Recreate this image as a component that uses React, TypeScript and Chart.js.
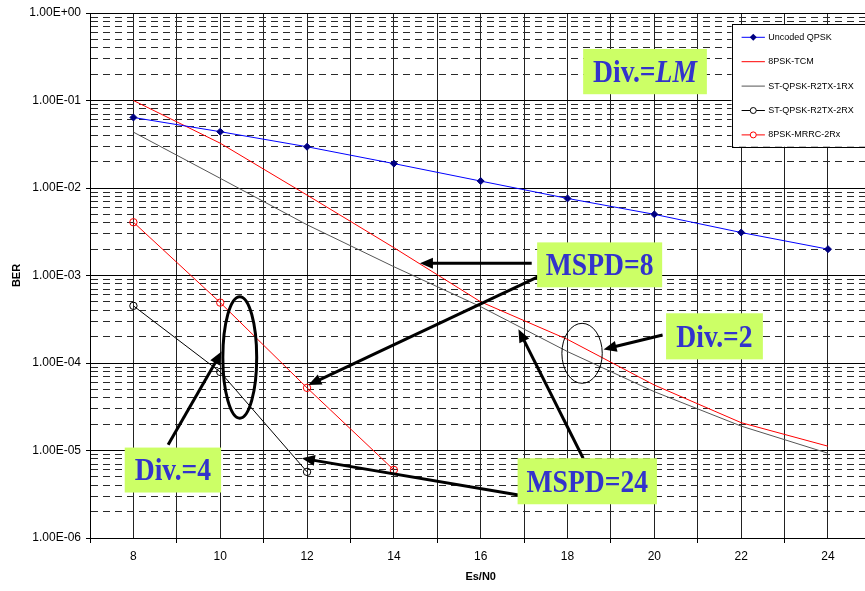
import React, { useEffect, useRef } from 'react';
import { Chart, registerables } from 'chart.js';

Chart.register(...registerables);

// ---- data ----
const esN0 = [8, 10, 12, 14, 16, 18, 20, 22, 24];
const uncodedQpsk = [6.4e-2, 4.4e-2, 2.96e-2, 1.9e-2, 1.2e-2, 7.6e-3, 5.0e-3, 3.1e-3, 2.0e-3];
const psk8Tcm = [1.0e-1, 3.25e-2, 8.3e-3, 2.08e-3, 5.0e-4, 1.86e-4, 5.6e-5, 2.08e-5, 1.12e-5];
const stQpsk1Rx = [4.35e-2, 1.29e-2, 3.8e-3, 1.26e-3, 4.4e-4, 1.35e-4, 4.7e-5, 1.9e-5, 9.3e-6];
const stQpsk2Rx = [4.5e-4, 7.9e-5, 5.7e-6];
const psk8Mrrc = [4.06e-3, 4.9e-4, 5.2e-5, 6.0e-6];

const seriesLabels = ['Uncoded QPSK', '8PSK-TCM', 'ST-QPSK-R2TX-1RX', 'ST-QPSK-R2TX-2RX', '8PSK-MRRC-2Rx'];

const xMin = 7;
const xMax = 25;
const yDecadeExps = [-6, -5, -4, -3, -2, -1, 0];

// ---- annotations (in data units) ----
type Seg = { t: string; italic?: boolean };
const labelBoxes: { segs: Seg[]; x0: number; x1: number; y0: number; y1: number }[] = [
  { segs: [{ t: 'Div.=' }, { t: 'LM', italic: true }], x0: 18.36, x1: 21.21, y0: 0.388, y1: 0.118 },
  { segs: [{ t: 'MSPD=8' }], x0: 17.3, x1: 20.18, y0: 2.39e-3, y1: 7.33e-4 },
  { segs: [{ t: 'Div.=2' }], x0: 20.27, x1: 22.5, y0: 3.7e-4, y1: 1.1e-4 },
  { segs: [{ t: 'MSPD=24' }], x0: 16.85, x1: 20.06, y0: 8.15e-6, y1: 2.43e-6 },
  { segs: [{ t: 'Div.=4' }], x0: 7.8, x1: 10.02, y0: 1.08e-5, y1: 3.31e-6 },
];
const arrows = [
  { x0: 17.175, y0: 1.38e-3, x1: 14.6, y1: 1.38e-3 },
  { x0: 17.33, y0: 9.69e-4, x1: 12.03, y1: 5.61e-5 },
  { x0: 20.19, y0: 2.09e-4, x1: 18.83, y1: 1.43e-4 },
  { x0: 8.8, y0: 1.16e-5, x1: 10.03, y1: 1.35e-4 },
  { x0: 18.36, y0: 8.15e-6, x1: 16.87, y1: 2.43e-4 },
  { x0: 16.87, y0: 3.1e-6, x1: 11.88, y1: 8.15e-6 },
];
const ellipses = [
  { x0: 17.87, x1: 18.8, y0: 2.84e-4, y1: 5.86e-5, lw: 1 },
  { x0: 10.06, x1: 10.84, y0: 5.73e-4, y1: 2.34e-5, lw: 3 },
];

const isDecade = (v: number) => Math.abs(Math.log10(v) - Math.round(Math.log10(v))) < 1e-9;
const fmtE = (v: number) => {
  const e = Math.round(Math.log10(v));
  const a = Math.abs(e);
  return '1.00E' + (e >= 0 ? '+' : '-') + (a < 10 ? '0' : '') + a;
};

const annotationPlugin = {
  id: 'annotations',
  afterDatasetsDraw(chart: any) {
    const { ctx } = chart;
    const xs = chart.scales.x;
    const ys = chart.scales.y;
    const px = (v: number) => xs.getPixelForValue(v);
    const py = (v: number) => ys.getPixelForValue(v);
    ctx.save();
    // ellipses
    ellipses.forEach((e) => {
      const cx = (px(e.x0) + px(e.x1)) / 2;
      const cy = (py(e.y0) + py(e.y1)) / 2;
      const rx = Math.abs(px(e.x1) - px(e.x0)) / 2;
      const ry = Math.abs(py(e.y1) - py(e.y0)) / 2;
      ctx.beginPath();
      ctx.ellipse(cx, cy, rx, ry, 0, 0, Math.PI * 2);
      ctx.strokeStyle = '#000';
      ctx.lineWidth = e.lw;
      ctx.stroke();
    });
    // arrows
    arrows.forEach((a) => {
      const sx = px(a.x0), sy = py(a.y0), tx = px(a.x1), ty = py(a.y1);
      const dx = tx - sx, dy = ty - sy;
      const len = Math.hypot(dx, dy);
      const ux = dx / len, uy = dy / len;
      const hl = 13, hw = 5.5;
      const bx = tx - ux * hl, by = ty - uy * hl;
      ctx.beginPath();
      ctx.moveTo(sx, sy);
      ctx.lineTo(bx + ux * 2, by + uy * 2);
      ctx.strokeStyle = '#000';
      ctx.lineWidth = 3;
      ctx.stroke();
      ctx.beginPath();
      ctx.moveTo(tx, ty);
      ctx.lineTo(bx - uy * hw, by + ux * hw);
      ctx.lineTo(bx + uy * hw, by - ux * hw);
      ctx.closePath();
      ctx.fillStyle = '#000';
      ctx.fill();
    });
    // label boxes
    const fs = 31;
    const sxScale = 0.89;
    labelBoxes.forEach((b) => {
      const l = px(b.x0), r = px(b.x1), t = py(b.y0), btm = py(b.y1);
      ctx.fillStyle = '#ccff66';
      ctx.fillRect(l, t, r - l, btm - t);
      let total = 0;
      const widths = b.segs.map((s) => {
        ctx.font = `${s.italic ? 'italic ' : ''}bold ${fs}px "Liberation Serif", "Times New Roman", serif`;
        const w = ctx.measureText(s.t).width;
        total += w;
        return w;
      });
      const cx = (l + r) / 2;
      const cy = (t + btm) / 2;
      ctx.save();
      ctx.translate(cx, cy);
      ctx.scale(sxScale, 1);
      let x = -total / 2;
      ctx.fillStyle = '#3333cc';
      ctx.textBaseline = 'alphabetic';
      b.segs.forEach((s, i) => {
        ctx.font = `${s.italic ? 'italic ' : ''}bold ${fs}px "Liberation Serif", "Times New Roman", serif`;
        ctx.fillText(s.t, x, fs * 0.662 / 2);
        x += widths[i];
      });
      ctx.restore();
    });
    ctx.restore();
  },
};

const legendPlugin = {
  id: 'boxLegend',
  afterDraw(chart: any) {
    const { ctx, chartArea } = chart;
    const left = chartArea.left + 641.6;
    const top = chartArea.top + 11;
    const w = 150;
    const h = 122.7;
    ctx.save();
    ctx.fillStyle = '#fff';
    ctx.fillRect(left, top, w, h);
    ctx.strokeStyle = '#000';
    ctx.lineWidth = 1;
    ctx.strokeRect(Math.round(left) + 0.5, Math.round(top) + 0.5, w, Math.round(h));
    chart.data.datasets.forEach((ds: any, i: number) => {
      const cy = top + 13.3 + i * 24.4;
      const lx0 = left + 10, lx1 = left + 33.3;
      ctx.beginPath();
      ctx.moveTo(lx0, cy);
      ctx.lineTo(lx1, cy);
      ctx.strokeStyle = ds.borderColor;
      ctx.lineWidth = 1;
      ctx.stroke();
      const mx = (lx0 + lx1) / 2;
      if (ds.pointRadius > 0) {
        if (ds.pointStyle === 'rectRot') {
          const r = 3.5;
          ctx.beginPath();
          ctx.moveTo(mx, cy - r);
          ctx.lineTo(mx + r, cy);
          ctx.lineTo(mx, cy + r);
          ctx.lineTo(mx - r, cy);
          ctx.closePath();
          ctx.fillStyle = ds.pointBackgroundColor;
          ctx.fill();
        } else {
          ctx.beginPath();
          ctx.arc(mx, cy, 3, 0, Math.PI * 2);
          ctx.fillStyle = '#fff';
          ctx.fill();
          ctx.strokeStyle = ds.pointBorderColor;
          ctx.stroke();
        }
      }
      ctx.fillStyle = '#000';
      ctx.font = '9px "Liberation Sans", Arial, sans-serif';
      ctx.textBaseline = 'middle';
      ctx.textAlign = 'left';
      ctx.fillText(ds.label, left + 36.6, cy);
    });
    ctx.restore();
  },
};

const toXY = (ys: number[]) => ys.map((y, i) => ({ x: esN0[i], y }));

export default function App() {
  const ref = useRef<HTMLCanvasElement | null>(null);
  useEffect(() => {
    document.body.style.margin = '0';
    document.body.style.overflow = 'hidden';
    if (!ref.current) return;
    const chart = new Chart(ref.current, {
      type: 'line',
      data: {
        datasets: [
          {
            label: seriesLabels[0],
            data: toXY(uncodedQpsk),
            borderColor: '#0000ff',
            borderWidth: 1,
            pointStyle: 'rectRot',
            pointRadius: 3.5,
            pointBackgroundColor: '#000080',
            pointBorderColor: '#000080',
            pointBorderWidth: 1,
          },
          {
            label: seriesLabels[1],
            data: toXY(psk8Tcm),
            borderColor: '#ff0000',
            borderWidth: 1,
            pointRadius: 0,
          },
          {
            label: seriesLabels[2],
            data: toXY(stQpsk1Rx),
            borderColor: '#555555',
            borderWidth: 1,
            pointRadius: 0,
          },
          {
            label: seriesLabels[3],
            data: toXY(stQpsk2Rx),
            borderColor: '#000000',
            borderWidth: 1,
            pointStyle: 'circle',
            pointRadius: 3.7,
            pointBackgroundColor: 'rgba(0,0,0,0)',
            pointBorderColor: '#000000',
            pointBorderWidth: 1,
          },
          {
            label: seriesLabels[4],
            data: toXY(psk8Mrrc),
            borderColor: '#ff0000',
            borderWidth: 1,
            pointStyle: 'circle',
            pointRadius: 3.7,
            pointBackgroundColor: 'rgba(0,0,0,0)',
            pointBorderColor: '#ff0000',
            pointBorderWidth: 1,
          },
        ] as any,
      },
      options: {
        animation: false,
        responsive: false,
        events: [],
        layout: { padding: { left: 0, top: 13, right: 8.6, bottom: 0 } },
        plugins: { legend: { display: false }, tooltip: { enabled: false } },
        scales: {
          x: {
            type: 'linear',
            min: xMin,
            max: xMax,
            afterBuildTicks: (scale: any) => {
              const t = [];
              for (let v = xMin; v <= xMax; v++) t.push({ value: v });
              scale.ticks = t;
            },
            afterFit: (scale: any) => {
              scale.height = 53;
            },
            ticks: {
              autoSkip: false,
              maxRotation: 0,
              padding: 6.5,
              color: '#000',
              font: { family: '"Liberation Sans", Arial, sans-serif', size: 12 },
              callback: (v: any) => (Number(v) % 2 === 0 ? String(v) : ''),
            },
            grid: {
              color: '#222',
              lineWidth: 1,
              tickLength: 5,
              tickColor: (c: any) => (c.tick && Math.abs(c.tick.value % 2) === 1 ? '#000' : 'rgba(0,0,0,0)'),
            },
            border: { color: '#000', width: 1 },
            title: {
              display: true,
              text: 'Es/N0',
              color: '#000',
              font: { family: '"Liberation Sans", Arial, sans-serif', size: 11, weight: 'bold' },
              padding: { top: 0, bottom: 7 },
            },
          },
          y: {
            type: 'logarithmic',
            min: 1e-6,
            max: 1,
            afterBuildTicks: (scale: any) => {
              const t = [];
              for (let k = 0; k < yDecadeExps.length - 1; k++) {
                const base = Math.pow(10, yDecadeExps[k]);
                for (let m = 1; m <= 9; m++) t.push({ value: parseFloat((m * base).toPrecision(6)) });
              }
              t.push({ value: Math.pow(10, yDecadeExps[yDecadeExps.length - 1]) });
              scale.ticks = t;
            },
            afterFit: (scale: any) => {
              scale.width = 90;
            },
            ticks: {
              autoSkip: false,
              padding: 5,
              color: '#000',
              font: { family: '"Liberation Sans", Arial, sans-serif', size: 12 },
              callback: (v: any) => (isDecade(Number(v)) ? fmtE(Number(v)) : ''),
            },
            grid: {
              color: (c: any) => (c.tick && isDecade(c.tick.value) ? '#000' : '#2a2a2a'),
              lineWidth: 1,
              tickLength: 4,
              tickColor: (c: any) => (c.tick && isDecade(c.tick.value) ? '#000' : 'rgba(0,0,0,0)'),
            },
            border: {
              color: '#000',
              width: 1,
              dash: (c: any) => (c.tick && !isDecade(c.tick.value) ? [7, 5] : []),
            } as any,
            title: {
              display: true,
              text: 'BER',
              color: '#000',
              font: { family: '"Liberation Sans", Arial, sans-serif', size: 11, weight: 'bold' },
              padding: { top: 10, bottom: 0 },
            },
          },
        },
      } as any,
      plugins: [annotationPlugin, legendPlugin],
    });
    return () => chart.destroy();
  }, []);
  return (
    <div style={{ width: 865, height: 591, overflow: 'hidden', position: 'relative', background: '#fff' }}>
      <canvas ref={ref} width={880} height={591} style={{ display: 'block', width: 880, height: 591 }} />
    </div>
  );
}
